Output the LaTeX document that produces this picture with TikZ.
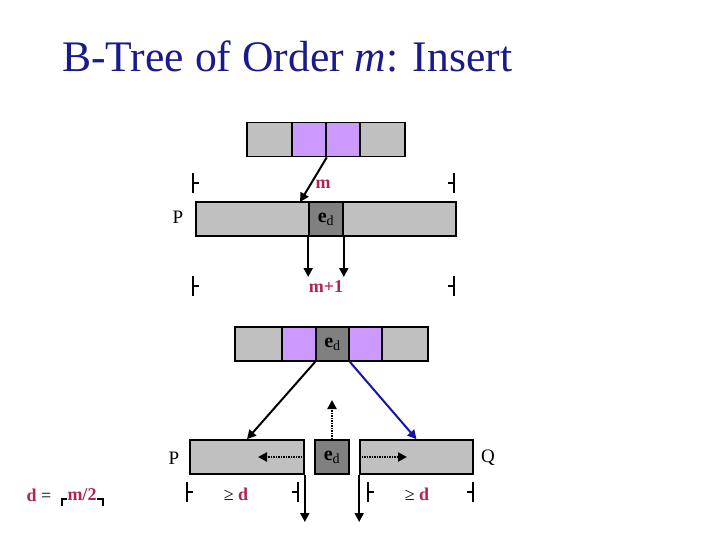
\documentclass[tikz,border=0pt]{standalone}
\usepackage{fontspec}
\setmainfont{Liberation Serif}
\usetikzlibrary{arrows.meta}

\definecolor{cellgray}{RGB}{192,192,192}
\definecolor{cellpurple}{RGB}{204,153,255}
\definecolor{keygray}{RGB}{128,128,128}
\definecolor{labelred}{RGB}{178,34,84}
\definecolor{titleblue}{RGB}{26,26,140}
\definecolor{arrowblue}{RGB}{20,20,170}

\begin{document}
\begin{tikzpicture}[x=1pt, y=-1pt,
    cell/.style={draw, line width=1.6pt, minimum height=34pt, inner sep=0pt, fill=cellgray},
    hi/.style={cell, fill=cellpurple},
    key/.style={cell, fill=keygray, font=\fontsize{20}{22}\selectfont},
    lbl/.style={inner sep=0pt, text=labelred, font=\fontsize{18}{20}\selectfont\bfseries},
    side/.style={inner sep=0pt, font=\fontsize{19}{22}\selectfont},
    arr/.style={-{Triangle[width=9pt,length=9pt]}, line width=2pt},
    dotarr/.style={arr, dash pattern=on 1.5pt off 1pt, line width=2.5pt},
    brk/.style={line width=1.6pt}
]
\useasboundingbox (0,0) rectangle (720,540);
\node[anchor=base west, inner sep=0pt, text=titleblue, font=\fontsize{43.6}{48}\selectfont] (title) at (62,72) {B-Tree of Order \textit{m}: Insert};

% node before the split
\node[cell, minimum width=45pt] (top1) at (269.5,139.5) {};
\node[hi, minimum width=34pt] (top2) at (309,139.5) {};
\node[hi, minimum width=34pt] (top3) at (343,139.5) {};
\node[cell, minimum width=45pt] (top4) at (382.5,139.5) {};

\node[cell, minimum width=113pt] (pl) at (252.5,219) {};
\node[key, minimum width=34pt] (pk) at (326,219) {\textbf{e}\textsubscript{d}};
\node[cell, minimum width=113pt] (pr) at (399.5,219) {};
\node[side] (plab) at (178,217) {P};

\coordinate (ins) at (300,202);
\draw[arr] (top2.south east) -- (ins);
\node[lbl] (mlab) at (323,184) {m};
\draw[brk] (193,173) -- (193,193) (193,183) -- (199,183);
\draw[brk] (454,173) -- (454,193) (454,183) -- (448,183);

\coordinate (lo) at (0,277);
\draw[arr] (pk.south west) -- (pk.south west |- lo);
\draw[arr] (pk.south east) -- (pk.south east |- lo);
\node[lbl] (m1lab) at (326,287) {m+1};
\draw[brk] (193,276) -- (193,296) (193,286) -- (199,286);
\draw[brk] (454,276) -- (454,296) (454,286) -- (448,286);

% after the split
\node[cell, minimum width=47pt] (up1) at (258.5,344) {};
\node[hi, minimum width=34pt] (up2) at (299,344) {};
\node[key, minimum width=33pt] (upk) at (332.5,344) {\textbf{e}\textsubscript{d}};
\node[hi, minimum width=33pt] (up3) at (365.5,344) {};
\node[cell, minimum width=46pt] (up4) at (405,344) {};

\node[cell, minimum width=114pt] (lp) at (247,457) {};
\node[key, minimum width=34pt] (ek) at (332,457) {\textbf{e}\textsubscript{d}};
\node[cell, minimum width=113pt] (rq) at (416.5,457) {};
\node[side] (plab2) at (174,458) {P};
\node[side] (qlab) at (488,458) {Q};

\draw[arr] (upk.south west) -- (lp.north);
\draw[arr, arrowblue] (upk.south east) -- (rq.north);

\coordinate (lift) at (0,400);
\coordinate (toP) at (258,0);
\coordinate (toQ) at (407,0);
\draw[dotarr] (ek.north) -- (ek.north |- lift);
\draw[dotarr] (lp.east) -- (lp.east -| toP);
\draw[dotarr] (rq.west) -- (rq.west -| toQ);

\coordinate (out) at (0,522);
\draw[arr] (lp.south east) -- (lp.south east |- out);
\draw[arr] (rq.south west) -- (rq.south west |- out);

\draw[brk] (187,482) -- (187,502) (187,492) -- (193,492);
\draw[brk] (298,482) -- (298,502) (298,492) -- (292,492);
\draw[brk] (368,482) -- (368,502) (368,492) -- (374,492);
\draw[brk] (473,482) -- (473,502) (473,492) -- (467,492);
\node[side, font=\fontsize{18}{20}\selectfont] (geP) at (236,494) {≥ \textcolor{labelred}{\textbf{d}}};
\node[side, font=\fontsize{18}{20}\selectfont] (geQ) at (417,494) {≥ \textcolor{labelred}{\textbf{d}}};

% d = ceil(m/2)
\node[side, font=\fontsize{18}{20}\selectfont] (deq) at (39,495) {\textcolor{labelred}{\textbf{d}} =};
\node[lbl] (dval) at (82,495) {m/2};
\draw[brk] (62,506) -- (62,499) -- (67,499);
\draw[brk] (97,499) -- (103,499) -- (103,506);
\end{tikzpicture}
\end{document}
